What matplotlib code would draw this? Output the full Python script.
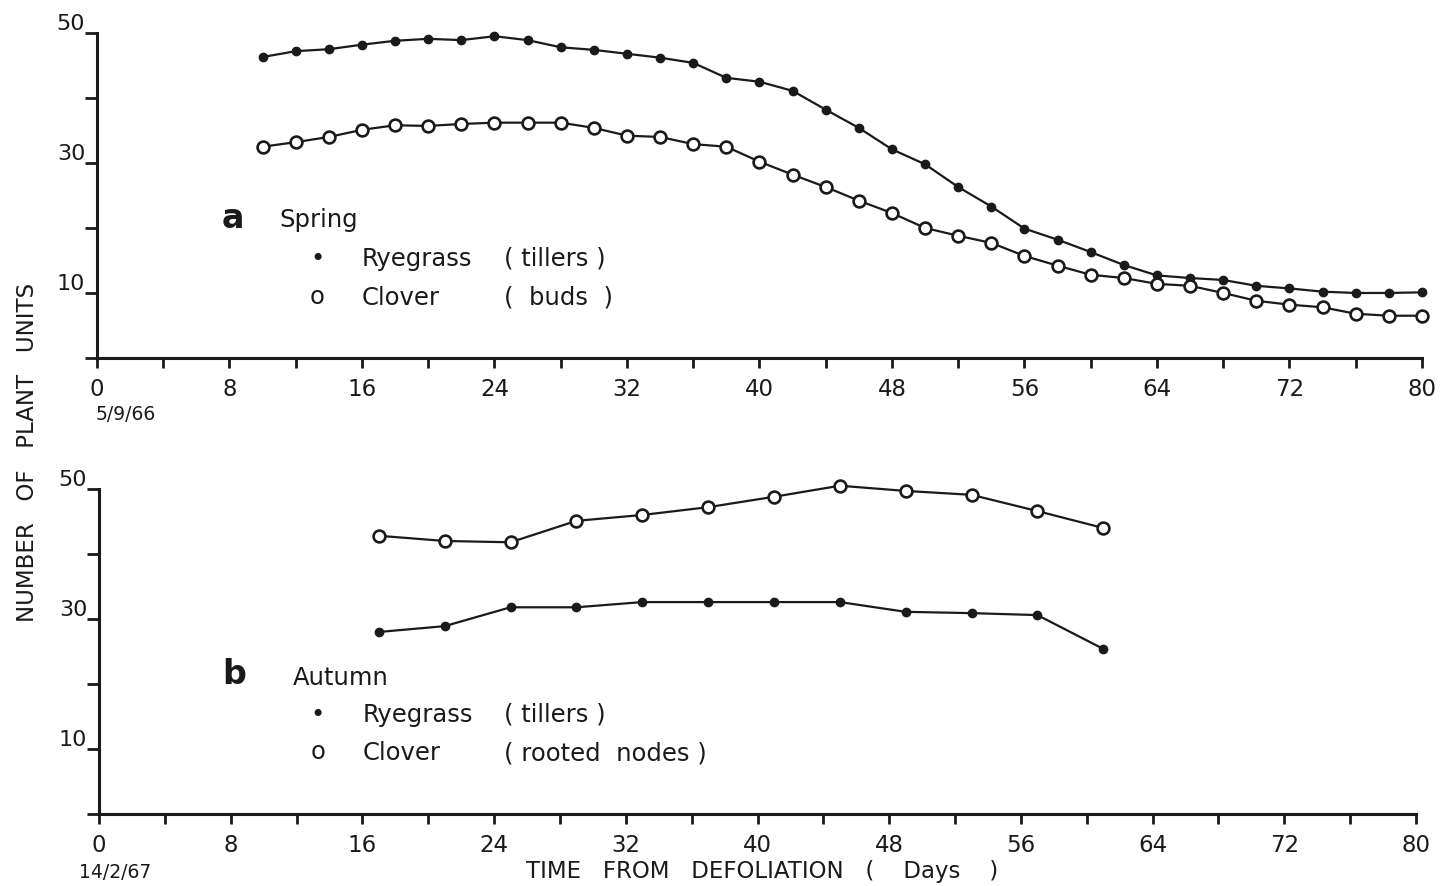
import matplotlib
matplotlib.use("Agg")
import matplotlib.pyplot as plt

# --- data ---
spring_days = list(range(10, 81, 2))
spring_ryegrass = [46.3, 47.2, 47.5, 48.2, 48.8, 49.1, 48.9, 49.5, 48.9, 47.8,
                   47.4, 46.8, 46.2, 45.4, 43.1, 42.5, 41.1, 38.2, 35.4, 32.1,
                   29.8, 26.3, 23.3, 19.9, 18.2, 16.3, 14.3, 12.7, 12.3, 12.0,
                   11.1, 10.7, 10.2, 10.0, 10.0, 10.1]
spring_clover = [32.5, 33.2, 34.0, 35.1, 35.8, 35.7, 36.0, 36.2, 36.2, 36.2,
                 35.4, 34.2, 34.0, 32.9, 32.5, 30.2, 28.2, 26.3, 24.2, 22.3,
                 20.0, 18.8, 17.7, 15.7, 14.2, 12.8, 12.3, 11.4, 11.1, 10.0,
                 8.8, 8.2, 7.8, 6.8, 6.5, 6.5]

autumn_days = [17, 21, 25, 29, 33, 37, 41, 45, 49, 53, 57, 61]
autumn_ryegrass = [28.0, 28.9, 31.8, 31.8, 32.6, 32.6, 32.6, 32.6, 31.1, 30.9, 30.6, 25.4]
autumn_clover = [42.8, 42.0, 41.8, 45.1, 46.0, 47.2, 48.8, 50.5, 49.7, 49.1, 46.6, 44.0]

x_ticks = list(range(0, 81, 4))
x_labels = [str(t) if t % 8 == 0 else "" for t in x_ticks]
y_ticks = [0, 10, 20, 30, 40, 50]
y_labels = ["", "10", "", "30", "", "50"]

plt.rcParams["font.family"] = "DejaVu Sans"
ink = "#1a1a1a"

fig = plt.figure(figsize=(14.43, 8.87), dpi=100)
ax_a = fig.add_axes([0.0672, 0.5953, 0.9182, 0.3664])
ax_b = fig.add_axes([0.0686, 0.0812, 0.9127, 0.3664])


def style_axes(ax):
    ax.set_xlim(0, 80)
    ax.set_ylim(0, 50)
    for side in ("top", "right"):
        ax.spines[side].set_visible(False)
    for side in ("left", "bottom"):
        ax.spines[side].set_linewidth(2.2)
        ax.spines[side].set_color(ink)
    ax.set_xticks(x_ticks)
    ax.set_xticklabels(x_labels)
    ax.set_yticks(y_ticks)
    ax.set_yticklabels(y_labels)
    ax.tick_params(axis="x", direction="out", length=7.5, width=2, pad=6,
                   labelsize=16.5, colors=ink)
    ax.tick_params(axis="y", direction="out", length=8.5, width=2, pad=0,
                   labelsize=16, colors=ink)
    for lbl in ax.get_yticklabels():
        lbl.set_verticalalignment("bottom")


def draw_pair(ax, days, rye, clover):
    ax.plot(days, rye, color=ink, lw=1.6, marker="o", ms=6,
            mfc=ink, mec=ink, clip_on=False, zorder=3)
    ax.plot(days, clover, color=ink, lw=1.6, marker="o", ms=8.5,
            mfc="white", mec=ink, mew=1.9, clip_on=False, zorder=3)


style_axes(ax_a)
style_axes(ax_b)
draw_pair(ax_a, spring_days, spring_ryegrass, spring_clover)
draw_pair(ax_b, autumn_days, autumn_ryegrass, autumn_clover)

txt = dict(color=ink, fontsize=17.5, va="center")

# panel a key
ax_a.text(7.5, 21.6, "a", fontsize=24, fontweight="bold", color=ink, va="center")
ax_a.text(11.0, 21.4, "Spring", **txt)
ax_a.text(13.3, 15.4, "\u2022", ha="center", **txt)
ax_a.text(16.0, 15.4, "Ryegrass", **txt)
ax_a.text(24.6, 15.4, "( tillers )", **txt)
ax_a.text(13.3, 9.6, "o", ha="center", **txt)
ax_a.text(16.0, 9.4, "Clover", **txt)
ax_a.text(24.6, 9.4, "(  buds  )", **txt)

# panel b key
ax_b.text(7.5, 21.6, "b", fontsize=24, fontweight="bold", color=ink, va="center")
ax_b.text(11.8, 21.1, "Autumn", **txt)
ax_b.text(13.3, 15.4, "\u2022", ha="center", **txt)
ax_b.text(16.0, 15.4, "Ryegrass", **txt)
ax_b.text(24.6, 15.4, "( tillers )", **txt)
ax_b.text(13.3, 9.7, "o", ha="center", **txt)
ax_b.text(16.0, 9.5, "Clover", **txt)
ax_b.text(24.6, 9.5, "( rooted  nodes )", **txt)

# dates, axis titles
fig.text(96 / 1443, 1 - 415 / 887, "5/9/66", fontsize=13.5, color=ink, va="center")
fig.text(79 / 1443, 1 - 873 / 887, "14/2/67", fontsize=13.5, color=ink, va="center")
fig.text(762 / 1443, 1 - 872 / 887, "TIME   FROM   DEFOLIATION   (    Days    )",
         fontsize=16.5, color=ink, ha="center", va="center")
fig.text(28 / 1443, 1 - 452 / 887, "NUMBER   OF   PLANT   UNITS", rotation=90,
         fontsize=16.5, color=ink, ha="center", va="center")

fig.savefig("out.png", dpi=100, facecolor="white")
